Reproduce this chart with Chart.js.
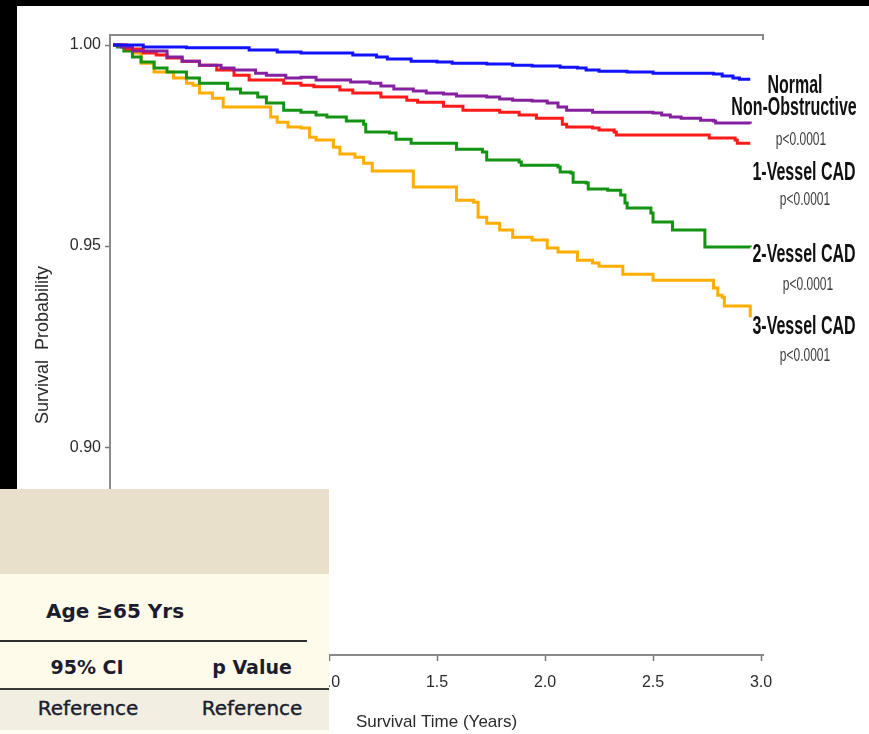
<!DOCTYPE html>
<html><head><meta charset="utf-8">
<script src="https://cdn.jsdelivr.net/npm/chart.js@4"></script>
<style>
html,body{margin:0;padding:0;background:#fff;}
#wrap{position:relative;width:869px;height:734px;overflow:hidden;background:#fff;}
.blk{position:absolute;background:#000;}
#c{position:absolute;left:0;top:0;}
#tbl{position:absolute;left:0;top:489px;width:329px;height:245px;background:#fffdf3;}
#tbl div{position:absolute;}
.tx{transform:translate(-50%,-50%);white-space:nowrap;color:#1b1d2e;font-family:"DejaVu Sans",sans-serif;}
</style></head>
<body>
<div id="wrap">
  <div class="blk" style="left:0;top:0;width:869px;height:6px"></div>
  <div class="blk" style="left:0;top:0;width:17px;height:489px"></div>
  <canvas id="c" width="869" height="734"></canvas>
  <div id="tbl">
    <div style="left:0;top:0;width:329px;height:85px;background:#e8e0ca"></div>
    <div style="left:0;top:85px;width:329px;height:114px;background:#fffbeb"></div>
    <div style="left:0;top:151px;width:307px;height:2px;background:#2e2e2e"></div>
    <div style="left:0;top:199px;width:329px;height:2px;background:#3a3a3a"></div>
    <div style="left:0;top:201px;width:329px;height:40px;background:#f2eee2"></div>
    <div class="tx" id="tAge" style="left:115px;top:122px;font-weight:bold;font-size:20px"></div>
    <div class="tx" id="tCI" style="left:87px;top:178px;font-weight:bold;font-size:19px"></div>
    <div class="tx" id="tP" style="left:252px;top:178px;font-weight:bold;font-size:19px"></div>
    <div class="tx" id="tR1" style="left:88px;top:219px;font-size:20px;-webkit-text-stroke:0.4px #1b1d2e"></div>
    <div class="tx" id="tR2" style="left:252px;top:219px;font-size:20px;-webkit-text-stroke:0.4px #1b1d2e"></div>
  </div>
</div>
<script>
// ---- data ----
const groupLabels = ['Normal', 'Non-Obstructive', '1-Vessel CAD', '2-Vessel CAD', '3-Vessel CAD'];
const pLabels = ['p<0.0001', 'p<0.0001', 'p<0.0001', 'p<0.0001'];
const xTicks = [0, 0.5, 1.0, 1.5, 2.0, 2.5, 3.0];
const yTicks = [0.85, 0.90, 0.95, 1.00];
const tableHeader = 'Age \u226565 Yrs';
const tableCols = ['95% CI', 'p Value'];
const tableRow = ['Reference', 'Reference'];

const normalT = [0, 0.14, 0.34, 0.63, 0.76, 0.87, 1.11, 1.22, 1.27, 1.38, 1.50, 1.57, 1.73, 1.85, 1.94, 2.07, 2.15, 2.19, 2.25, 2.38, 2.50, 2.78, 2.82, 2.87, 2.90, 2.95];
const normalS = [1.0, 0.9995, 0.9993, 0.9988, 0.9983, 0.9980, 0.9975, 0.9970, 0.9965, 0.9960, 0.9958, 0.9955, 0.9953, 0.9950, 0.9948, 0.9945, 0.9943, 0.9938, 0.9935, 0.9933, 0.9930, 0.9928, 0.9923, 0.9918, 0.9915, 0.9915];

const nonObsT = [0, 0.04, 0.09, 0.25, 0.32, 0.40, 0.50, 0.56, 0.66, 0.71, 0.80, 0.87, 0.94, 1.10, 1.19, 1.24, 1.30, 1.39, 1.45, 1.53, 1.59, 1.73, 1.79, 1.85, 1.94, 2.01, 2.06, 2.10, 2.22, 2.50, 2.54, 2.58, 2.63, 2.72, 2.78, 2.79, 2.95];
const nonObsS = [1.0, 0.9995, 0.9985, 0.9970, 0.9960, 0.9950, 0.9943, 0.9938, 0.9930, 0.9925, 0.9918, 0.9920, 0.9913, 0.9908, 0.9905, 0.9898, 0.9891, 0.9886, 0.9881, 0.9878, 0.9873, 0.9871, 0.9866, 0.9863, 0.9861, 0.9856, 0.9846, 0.9838, 0.9833, 0.9831, 0.9826, 0.9821, 0.9818, 0.9813, 0.9811, 0.9806, 0.9804];

const v1T = [0, 0.06, 0.14, 0.20, 0.25, 0.32, 0.40, 0.48, 0.56, 0.63, 0.79, 0.87, 0.93, 1.05, 1.11, 1.24, 1.36, 1.41, 1.53, 1.62, 1.79, 1.88, 1.96, 2.08, 2.10, 2.22, 2.25, 2.32, 2.33, 2.76, 2.88, 2.89, 2.95];
const v1S = [1.0, 0.9990, 0.9980, 0.9975, 0.9968, 0.9960, 0.9950, 0.9938, 0.9925, 0.9913, 0.9905, 0.9900, 0.9896, 0.9888, 0.9881, 0.9871, 0.9863, 0.9858, 0.9848, 0.9838, 0.9833, 0.9826, 0.9818, 0.9803, 0.9796, 0.9794, 0.9789, 0.9784, 0.9776, 0.9769, 0.9764, 0.9756, 0.9756];

const v2T = [0, 0.02, 0.05, 0.09, 0.13, 0.19, 0.25, 0.34, 0.40, 0.53, 0.59, 0.67, 0.71, 0.79, 0.87, 0.94, 0.99, 1.08, 1.16, 1.17, 1.28, 1.31, 1.38, 1.59, 1.71, 1.73, 1.88, 1.89, 2.06, 2.07, 2.12, 2.13, 2.19, 2.20, 2.29, 2.35, 2.37, 2.38, 2.49, 2.50, 2.59, 2.74, 2.95];
const v2S = [1.0, 0.9995, 0.9985, 0.9970, 0.9958, 0.9943, 0.9933, 0.9918, 0.9905, 0.9891, 0.9881, 0.9871, 0.9856, 0.9838, 0.9833, 0.9826, 0.9821, 0.9811, 0.9803, 0.9784, 0.9781, 0.9766, 0.9756, 0.9741, 0.9734, 0.9714, 0.9709, 0.9701, 0.9697, 0.9684, 0.9682, 0.9659, 0.9657, 0.9642, 0.9639, 0.9627, 0.9607, 0.9595, 0.9582, 0.9560, 0.9540, 0.9498, 0.9497];

const v3T = [0, 0.06, 0.09, 0.13, 0.19, 0.28, 0.34, 0.37, 0.40, 0.46, 0.51, 0.73, 0.76, 0.81, 0.87, 0.91, 0.94, 1.02, 1.05, 1.12, 1.16, 1.20, 1.39, 1.59, 1.67, 1.69, 1.73, 1.79, 1.85, 1.94, 2.01, 2.06, 2.15, 2.22, 2.25, 2.36, 2.50, 2.78, 2.80, 2.82, 2.83, 2.95];
const v3S = [1.0, 0.9998, 0.9980, 0.9955, 0.9933, 0.9918, 0.9905, 0.9900, 0.9881, 0.9868, 0.9846, 0.9821, 0.9808, 0.9796, 0.9794, 0.9771, 0.9764, 0.9746, 0.9729, 0.9721, 0.9706, 0.9687, 0.9647, 0.9614, 0.9609, 0.9572, 0.9557, 0.9540, 0.9522, 0.9515, 0.9495, 0.9485, 0.9465, 0.9458, 0.9450, 0.9430, 0.9415, 0.9396, 0.9378, 0.9373, 0.9351, 0.9323];

// ---- table text ----
document.getElementById('tAge').textContent = tableHeader;
document.getElementById('tCI').textContent = tableCols[0];
document.getElementById('tP').textContent = tableCols[1];
document.getElementById('tR1').textContent = tableRow[0];
document.getElementById('tR2').textContent = tableRow[1];

const toXY = (ts, ss) => ts.map((t, i) => ({x: t, y: ss[i]}));
const colors = ['#1212ff', '#8521a0', '#ff1a1a', '#139313', '#ffad00'];
const series = [[normalT, normalS], [nonObsT, nonObsS], [v1T, v1S], [v2T, v2S], [v3T, v3S]];

const labelPlugin = {
  id: 'labels',
  afterDraw(chart) {
    const ctx = chart.ctx;
    const a = chart.chartArea;
    // top frame line with end tick
    ctx.save();
    ctx.strokeStyle = '#8a8a8a';
    ctx.lineWidth = 2;
    ctx.beginPath();
    ctx.moveTo(a.left, a.top);
    ctx.lineTo(a.right, a.top);
    ctx.lineTo(a.right, a.top + 5);
    ctx.stroke();
    ctx.restore();
    const big = [
      [groupLabels[0], 795, 86], [groupLabels[1], 794, 108],
      [groupLabels[2], 804, 173], [groupLabels[3], 804, 255], [groupLabels[4], 804, 327]
    ];
    const small = [[pLabels[0], 801, 140], [pLabels[1], 805, 200], [pLabels[2], 808, 285], [pLabels[3], 805, 356]];
    ctx.save();
    ctx.textAlign = 'center';
    ctx.textBaseline = 'middle';
    big.forEach(([t, x, y]) => {
      ctx.save(); ctx.translate(x, y); ctx.scale(0.8, 1.25);
      ctx.font = 'bold 20px "Liberation Sans", Arial, sans-serif';
      ctx.fillStyle = '#111';
      ctx.fillText(t, 0, 0);
      ctx.restore();
    });
    small.forEach(([t, x, y]) => {
      ctx.save(); ctx.translate(x, y); ctx.scale(0.8, 1.2);
      ctx.font = '15px "Liberation Sans", Arial, sans-serif';
      ctx.fillStyle = '#3a3a3a';
      ctx.fillText(t, 0, 0);
      ctx.restore();
    });
    ctx.restore();
  }
};

new Chart(document.getElementById('c'), {
  type: 'line',
  data: {
    datasets: series.map((s, i) => ({
      label: groupLabels[i],
      data: toXY(s[0], s[1]),
      borderColor: colors[i],
      backgroundColor: colors[i],
      borderWidth: 3,
      pointRadius: 0,
      stepped: true,
      fill: false
    }))
  },
  options: {
    responsive: false,
    animation: false,
    devicePixelRatio: 1,
    layout: {padding: {top: 35, right: 106, left: 0, bottom: 0}},
    plugins: {legend: {display: false}, tooltip: {enabled: false}},
    scales: {
      x: {
        type: 'linear',
        min: -0.014,
        max: 3.009,
        afterBuildTicks: s => { s.ticks = xTicks.map(v => ({value: v})); },
        afterFit: s => { s.height = 79; },
        border: {display: true, color: '#8a8a8a', width: 2},
        grid: {drawOnChartArea: false, drawTicks: true, tickLength: 6, tickColor: '#777', tickWidth: 1.5},
        ticks: {
          padding: 12,
          color: '#2a2a2a',
          font: {family: '"Liberation Sans", Arial, sans-serif', size: 16},
          callback: v => Number(v).toFixed(1),
          maxRotation: 0
        },
        title: {display: true, text: 'Survival Time (Years)', color: '#2a2a2a',
          font: {family: '"Liberation Sans", Arial, sans-serif', size: 17}, padding: {top: 0, bottom: 1}}
      },
      y: {
        type: 'linear',
        min: 0.8483,
        max: 1.0025,
        afterBuildTicks: s => { s.ticks = yTicks.map(v => ({value: v})); },
        afterFit: s => { s.width = 110; },
        border: {display: true, color: '#8a8a8a', width: 2},
        grid: {drawOnChartArea: false, drawTicks: true, tickLength: 5, tickColor: '#777', tickWidth: 1.5},
        ticks: {
          padding: 4,
          color: '#2a2a2a',
          font: {family: '"Liberation Sans", Arial, sans-serif', size: 16},
          callback: v => Number(v).toFixed(2)
        },
        title: {display: true, text: 'Survival  Probability', color: '#2a2a2a',
          font: {family: '"Liberation Sans", Arial, sans-serif', size: 18}, padding: {top: 32, bottom: 0}}
      }
    }
  },
  plugins: [labelPlugin]
});
</script>
</body></html>
